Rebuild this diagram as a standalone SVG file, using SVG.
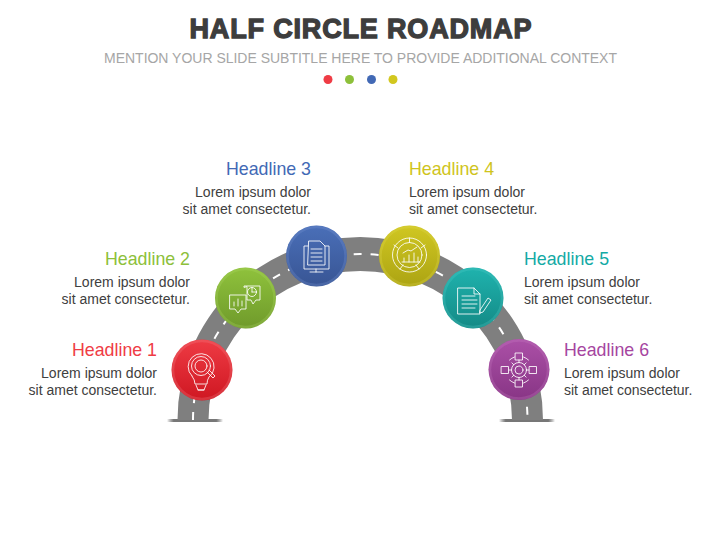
<svg xmlns="http://www.w3.org/2000/svg" width="720" height="540" viewBox="0 0 720 540">
<style>
text{font-family:"Liberation Sans",Arial,sans-serif}
.h{font-size:17.800px}
.b{font-size:14px;fill:#404040}
.e{text-anchor:end}
.ic{fill:none;stroke:#fff;stroke-width:1;stroke-opacity:.85;stroke-linejoin:round;stroke-linecap:round}
.ring{fill:none;stroke-width:2.500;stroke-opacity:.25}
</style>
<defs>
<linearGradient id="gr" x1="0" y1="0" x2="0" y2="1"><stop offset="0" stop-color="#ee3b44"/><stop offset="1" stop-color="#cf1722"/></linearGradient>
<linearGradient id="gg" x1="0" y1="0" x2="0" y2="1"><stop offset="0" stop-color="#8fc23c"/><stop offset="1" stop-color="#6f9a2b"/></linearGradient>
<linearGradient id="gb" x1="0" y1="0" x2="0" y2="1"><stop offset="0" stop-color="#4a6fb8"/><stop offset="1" stop-color="#385594"/></linearGradient>
<linearGradient id="gy" x1="0" y1="0" x2="0" y2="1"><stop offset="0" stop-color="#d0c722"/><stop offset="1" stop-color="#aca413"/></linearGradient>
<linearGradient id="gt" x1="0" y1="0" x2="0" y2="1"><stop offset="0" stop-color="#1fb3ae"/><stop offset="1" stop-color="#148a86"/></linearGradient>
<linearGradient id="gp" x1="0" y1="0" x2="0" y2="1"><stop offset="0" stop-color="#ab50a7"/><stop offset="1" stop-color="#883585"/></linearGradient>
<linearGradient id="sh" x1="0" y1="0" x2="1" y2="0"><stop offset="0" stop-color="#555" stop-opacity="0"/><stop offset=".12" stop-color="#777"/><stop offset=".88" stop-color="#777"/><stop offset="1" stop-color="#555" stop-opacity="0"/></linearGradient>
</defs>
<rect width="720" height="540" fill="#fff"/>
<g id="title">
<text x="360.500" y="38" text-anchor="middle" font-size="27" font-weight="700" fill="#3d3d3d" stroke="#3d3d3d" stroke-width="1.300" textLength="342" lengthAdjust="spacing">HALF CIRCLE ROADMAP</text>
<text x="360.500" y="63" text-anchor="middle" font-size="14" fill="#a6a6a6" textLength="513" lengthAdjust="spacing">MENTION YOUR SLIDE SUBTITLE HERE TO PROVIDE ADDITIONAL CONTEXT</text>
<circle cx="328" cy="79.500" r="4.500" fill="#ef3c45"/><circle cx="349.500" cy="79.500" r="4.500" fill="#8dc03a"/><circle cx="371.500" cy="79.500" r="4.500" fill="#4269b5"/><circle cx="393" cy="79.500" r="4.500" fill="#d2c71f"/>
</g>
<g id="connectors">
<rect x="167" y="419" width="56" height="3" fill="url(#sh)"/>
<rect x="499" y="419" width="56" height="3" fill="url(#sh)"/>
<path id="road" d="M177.500 420A182.750 183 0 0 1 543 420H512A151.750 149 0 0 0 208.500 420Z" fill="#7f7f7f"/>
<path d="M193 420A167.250 166 0 0 1 527.500 420" fill="none" stroke="#fff" stroke-width="2" stroke-dasharray="8 9"/>
</g>
<g id="node1"><circle cx="202" cy="370" r="30.500" fill="url(#gr)"/><circle cx="202" cy="370" r="29" class="ring" stroke="#f58a90"/>
<g class="ic"><path d="M192 376a13 13 0 1 1 17 1q-2 3-2 7h-12q0-4-3-8"/><circle cx="201" cy="366" r="9.500"/><circle cx="201" cy="366" r="6"/><path d="M207 372l6 6 2-2-6-6M196 385l2 5h6l2-5M198 390h6"/></g></g>
<g id="node2"><circle cx="245.500" cy="298" r="30.500" fill="url(#gg)"/><circle cx="245.500" cy="298" r="29" class="ring" stroke="#b5da6a"/>
<g class="ic"><path d="M230 295h16v14h-5l-3 4-3-4h-5zM244 287v-1h16v14h-4l-3 4-2-4h-4v-13z"/><path d="M234 306v-4M238 306v-7M242 306v-5"/><circle cx="252" cy="292" r="4.500"/><path d="M252 292v-4.500M252 292h4.500"/></g></g>
<g id="node3"><circle cx="316.500" cy="256" r="30.500" fill="url(#gb)"/><circle cx="316.500" cy="256" r="29" class="ring" stroke="#7f9bd6"/>
<g class="ic"><path d="M308 246h-4v23h25v-23h-4M309 241h11l5 5v19h-17zM311 249h11M311 253h11M311 257h11M311 261h11M316 269v3M310 272h13"/></g></g>
<g id="node4"><circle cx="409.500" cy="256" r="30.500" fill="url(#gy)"/><circle cx="409.500" cy="256" r="29" class="ring" stroke="#e4dd58"/>
<g class="ic"><circle cx="409.500" cy="255" r="17"/><circle cx="409.500" cy="255" r="12.500"/><path d="M409.500 238v4.500M398 248l-4-3M421 248l4-3M403 265l-3 4M416 265l3 4M404 262v-4M409 262v-7M414 262v-9M418 262v-5M402 262h18M403 253l5-3 3 1 6-4"/></g></g>
<g id="node5"><circle cx="473" cy="298" r="30.500" fill="url(#gt)"/><circle cx="473" cy="298" r="29" class="ring" stroke="#5ad0ca"/>
<g class="ic"><path d="M458 288h16l6 6v20h-22zM474 288v6h6M462 296h13M462 300h15M462 304h15M462 308h13M480 310l8-12 3 2-8 12-3 1z"/></g></g>
<g id="node6"><circle cx="519" cy="369.500" r="30.500" fill="url(#gp)"/><circle cx="519" cy="369.500" r="29" class="ring" stroke="#cc85c8"/>
<g class="ic"><circle cx="519" cy="370" r="4"/><circle cx="519" cy="370" r="7.500"/><path d="M526.500 370h2.500M511.500 370h-2.500M519 362.500v-2.500M519 377.500v2.500M524.300 364.700l1.800-1.800M513.700 364.700l-1.800-1.800M524.300 375.300l1.800 1.800M513.700 375.300l-1.800 1.800"/><path d="M509.500 360a14 14 0 0 1 5-3M523.500 357a14 14 0 0 1 5 3M509.500 380a14 14 0 0 0 5 3M523.500 383a14 14 0 0 0 5-3"/><rect x="515.500" y="353" width="7" height="7"/><rect x="515.500" y="380" width="7" height="7"/><rect x="501.500" y="366.500" width="7" height="7"/><rect x="529.500" y="366.500" width="7" height="7"/></g></g>
<g id="label1"><text class="h e" x="157" y="355.500" fill="#ef3c45">Headline 1</text><text class="b e" x="157" y="378">Lorem ipsum dolor</text><text class="b e" x="157" y="395">sit amet consectetur.</text></g>
<g id="label2"><text class="h e" x="190" y="265" fill="#8dc03a">Headline 2</text><text class="b e" x="190" y="287">Lorem ipsum dolor</text><text class="b e" x="190" y="304">sit amet consectetur.</text></g>
<g id="label3"><text class="h e" x="311" y="174.500" fill="#4269b5">Headline 3</text><text class="b e" x="311" y="197">Lorem ipsum dolor</text><text class="b e" x="311" y="214">sit amet consectetur.</text></g>
<g id="label4"><text class="h" x="409" y="174.500" fill="#cfc41c">Headline 4</text><text class="b" x="409" y="197">Lorem ipsum dolor</text><text class="b" x="409" y="214">sit amet consectetur.</text></g>
<g id="label5"><text class="h" x="524" y="265" fill="#14aaa5">Headline 5</text><text class="b" x="524" y="287">Lorem ipsum dolor</text><text class="b" x="524" y="304">sit amet consectetur.</text></g>
<g id="label6"><text class="h" x="564" y="355.500" fill="#a6459f">Headline 6</text><text class="b" x="564" y="378">Lorem ipsum dolor</text><text class="b" x="564" y="395">sit amet consectetur.</text></g>
</svg>
